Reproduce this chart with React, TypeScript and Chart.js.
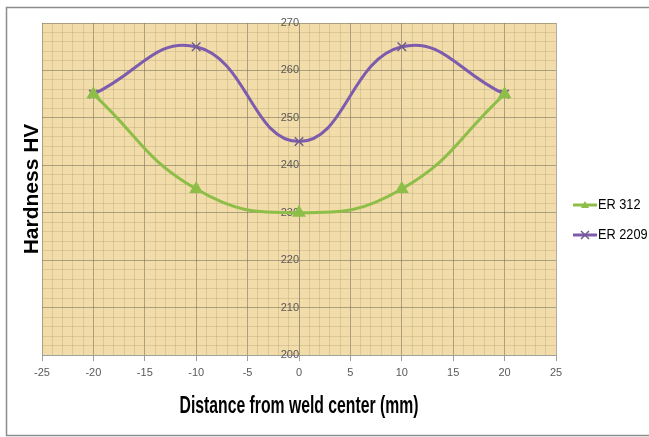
import React, { useEffect, useRef } from "react";
import { Chart, registerables } from "chart.js";

Chart.register(...registerables);

const distances = [-20, -10, 0, 10, 20];
const er312 = [255, 235, 230, 235, 255];
const er2209 = [255, 265, 245, 265, 255];
const seriesNames = ["ER 312", "ER 2209"];
const xTitle = "Distance from weld center (mm)";
const yTitle = "Hardness HV";

const SANS = "'Liberation Sans', Arial, sans-serif";

const bgPlugin = {
  id: "bgPlugin",
  beforeDraw(chart: any) {
    const { ctx, chartArea } = chart;
    ctx.save();
    ctx.fillStyle = "#F2DCA9";
    ctx.fillRect(chartArea.left, chartArea.top, chartArea.right - chartArea.left, chartArea.bottom - chartArea.top);
    ctx.restore();
  },
  afterDraw(chart: any) {
    const { ctx, chartArea } = chart;
    ctx.save();
    // frame
    ctx.strokeStyle = "#8c8c8c";
    ctx.lineWidth = 1.5;
    ctx.strokeRect(6.5, 7.5, chart.width + 20, chart.height - 9);
    ctx.restore();

    // x title (condensed)
    ctx.save();
    ctx.font = `bold 24px ${SANS}`;
    ctx.fillStyle = "#000";
    ctx.textAlign = "center";
    ctx.textBaseline = "alphabetic";
    ctx.fillText(xTitle, (chartArea.left + chartArea.right) / 2, chartArea.bottom + 58, 239);
    ctx.restore();

    // y title
    ctx.save();
    ctx.translate(chartArea.left - 10, (chartArea.top + chartArea.bottom) / 2);
    ctx.rotate(-Math.PI / 2);
    ctx.font = `bold 21px ${SANS}`;
    ctx.fillStyle = "#000";
    ctx.textAlign = "center";
    ctx.textBaseline = "middle";
    ctx.fillText(yTitle, 0, 0);
    ctx.restore();

    // legend
    const dsets = chart.data.datasets;
    const mid = chart.height / 2 + 1.5;
    dsets.forEach((ds: any, i: number) => {
      const y = mid + (i - (dsets.length - 1) / 2) * 30;
      const x0 = chartArea.right + 17;
      ctx.save();
      ctx.strokeStyle = ds.borderColor;
      ctx.lineWidth = 3;
      ctx.beginPath();
      ctx.moveTo(x0, y);
      ctx.lineTo(x0 + 24, y);
      ctx.stroke();
      const cx = x0 + 12;
      if (ds.pointStyle === "triangle") {
        ctx.fillStyle = ds.pointBackgroundColor;
        ctx.beginPath();
        ctx.moveTo(cx, y - 4);
        ctx.lineTo(cx + 4, y + 3);
        ctx.lineTo(cx - 4, y + 3);
        ctx.closePath();
        ctx.fill();
      } else {
        ctx.strokeStyle = ds.pointBorderColor;
        ctx.lineWidth = 1.5;
        ctx.beginPath();
        ctx.moveTo(cx - 4, y - 4);
        ctx.lineTo(cx + 4, y + 4);
        ctx.moveTo(cx + 4, y - 4);
        ctx.lineTo(cx - 4, y + 4);
        ctx.stroke();
      }
      ctx.fillStyle = "#000";
      ctx.font = `15px ${SANS}`;
      ctx.textAlign = "left";
      ctx.textBaseline = "middle";
      ctx.translate(x0 + 25, y);
      ctx.scale(0.85, 1);
      ctx.fillText(ds.label, 0, 0);
      ctx.restore();
    });
  },
};

export default function App() {
  const ref = useRef<HTMLCanvasElement | null>(null);
  useEffect(() => {
    if (!ref.current) return;
    const toPts = (ys: number[]) => distances.map((x, i) => ({ x, y: ys[i] }));
    const major = "rgba(125,118,95,0.6)";
    const minor = "rgba(175,160,115,0.33)";
    const chart = new Chart(ref.current, {
      type: "line",
      data: {
        datasets: [
          {
            label: seriesNames[0],
            data: toPts(er312),
            borderColor: "#8DBE48",
            backgroundColor: "#8DBE48",
            pointBackgroundColor: "#8DBE48",
            pointBorderColor: "#8DBE48",
            pointStyle: "triangle",
            pointRadius: 5,
            borderWidth: 3,
            tension: 0.45,
          },
          {
            label: seriesNames[1],
            data: toPts(er2209),
            borderColor: "#7D5CAE",
            backgroundColor: "#7D5CAE",
            pointBackgroundColor: "#6E5C8E",
            pointBorderColor: "#6E5C8E",
            pointStyle: "crossRot",
            pointRadius: 6,
            pointBorderWidth: 1.5,
            borderWidth: 3,
            tension: 0.45,
          },
        ] as any,
      },
      options: {
        responsive: false,
        animation: false,
        layout: { padding: { left: 42, top: 23, right: 93, bottom: 0 } },
        plugins: { legend: { display: false }, tooltip: { enabled: false } },
        scales: {
          x: {
            type: "linear",
            min: -25,
            max: 25,
            afterFit(scale: any) {
              scale.height = 82;
            },
            ticks: {
              stepSize: 1,
              autoSkip: false,
              maxRotation: 0,
              padding: 5,
              color: "#595959",
              font: { family: SANS, size: 11 },
              callback: (v: any) => (Number(v) % 5 === 0 ? String(v) : ""),
            },
            grid: {
              color: (c: any) => (c.tick && c.tick.value % 5 === 0 ? major : minor),
              tickColor: (c: any) => (c.tick && c.tick.value % 5 === 0 ? "#a0a0a0" : "rgba(0,0,0,0)"),
              tickLength: 6,
            },
            border: { color: "#a0a0a0" },
            title: { display: false },
          },
          y: {
            type: "linear",
            position: { x: 0 } as any,
            min: 200,
            max: 270,
            ticks: {
              stepSize: 2,
              autoSkip: false,
              padding: 9,
              color: "#595959",
              font: { family: SANS, size: 11 },
              callback: (v: any) => (Number(v) % 10 === 0 ? String(v) : ""),
            },
            grid: {
              color: (c: any) => (c.tick && c.tick.value % 10 === 0 ? major : minor),
              drawTicks: false,
            },
            border: { color: "rgba(150,140,120,0.5)" },
          },
        },
      } as any,
      plugins: [bgPlugin],
    });
    return () => chart.destroy();
  }, []);
  return (
    <div style={{ position: "fixed", left: 0, top: 0, width: 649, height: 437, background: "#fff" }}>
      <canvas ref={ref} width={649} height={437} style={{ display: "block" }} />
    </div>
  );
}
